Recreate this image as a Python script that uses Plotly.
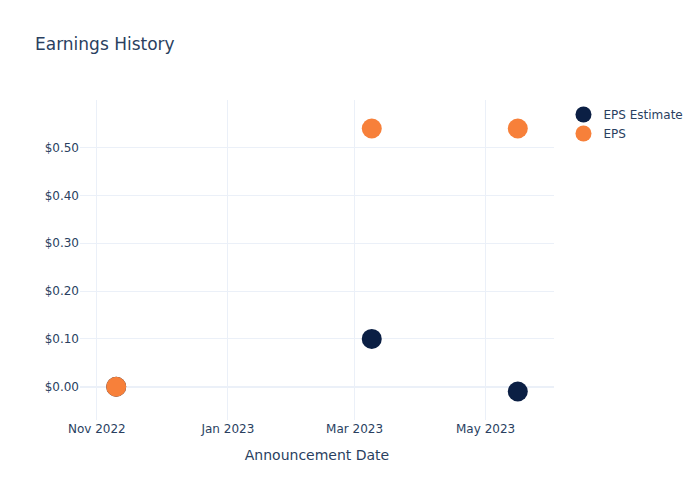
import plotly.graph_objects as go

dates = ["2022-11-10", "2023-03-09", "2023-05-16"]
eps_estimate = [0.0, 0.10, -0.01]
eps_actual = [0.0, 0.54, 0.54]

fig = go.Figure()
fig.add_trace(go.Scatter(x=dates, y=eps_estimate, mode="markers", name="EPS Estimate",
                         marker=dict(color="#0b1f44", size=20)))
fig.add_trace(go.Scatter(x=dates, y=eps_actual, mode="markers", name="EPS",
                         marker=dict(color="#f7803a", size=20)))
fig.update_layout(
    template="plotly_white",
    width=700, height=500,
    font=dict(family="DejaVu Sans"),
    title=dict(text="Earnings History"),
    xaxis=dict(title=dict(text="Announcement Date")),
    yaxis=dict(tickformat="$.2f"),
)
fig.write_html("out.html")
